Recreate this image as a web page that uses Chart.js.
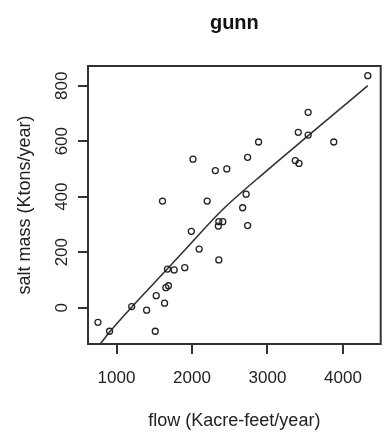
<!DOCTYPE html>
<html>
<head>
<meta charset="utf-8">
<script src="https://cdn.jsdelivr.net/npm/chart.js@4/dist/chart.umd.min.js"></script>
<style>
  body { margin: 0; background: #fff; }
  canvas { display: block; }
</style>
</head>
<body>
<canvas id="graph" width="386" height="440"></canvas>
<script>
// observed flow vs salt mass
const flow = [4329, 3539, 3408, 3539, 3878, 2882, 2737, 2013, 2461, 2309, 3368, 3417,
  2201, 1609, 2717, 2671, 2355, 2408, 2349, 2737, 2095, 2355, 1991, 1675, 1763, 1904,
  1654, 1688, 1526, 1636, 1201, 1399, 754, 908, 1513];
const saltMass = [836, 704, 632, 622, 597, 597, 542, 535, 500, 494, 530, 520,
  384, 384, 409, 360, 310, 310, 294, 296, 211, 172, 275, 139, 136, 144,
  72, 79, 43, 16, 4, -9, -53, -85, -85];

// smooth fit line
const fitFlow = [754, 908, 1201, 1675, 2000, 2400, 3000, 3539, 4329];
const fitMass = [-142, -88, 2, 140, 236, 352, 496, 620, 800];

const xTicks = [1000, 2000, 3000, 4000];
const yTicks = [0, 200, 400, 600, 800];

const fontFam = '"Liberation Sans", Arial, sans-serif';
const ink = '#222';

const boxPlugin = {
  id: 'box',
  afterDraw(c) {
    const { ctx, chartArea: a } = c;
    ctx.save();
    ctx.strokeStyle = '#333';
    ctx.lineWidth = 2;
    ctx.strokeRect(a.left, a.top, a.right - a.left, a.bottom - a.top);
    // y tick labels, rotated like R
    const y = c.scales.y;
    ctx.fillStyle = ink;
    ctx.font = '17px ' + fontFam;
    ctx.textAlign = 'center';
    ctx.textBaseline = 'middle';
    yTicks.forEach(v => {
      ctx.save();
      ctx.translate(62, y.getPixelForValue(v));
      ctx.rotate(-Math.PI / 2);
      ctx.fillText(String(v), 0, 0);
      ctx.restore();
    });
    ctx.restore();
  }
};

new Chart(document.getElementById('graph'), {
  type: 'scatter',
  data: {
    datasets: [{
      data: flow.map((f, i) => ({ x: f, y: saltMass[i] })),
      pointRadius: 3,
      pointBorderWidth: 1.3,
      pointBorderColor: '#222',
      pointBackgroundColor: 'rgba(0,0,0,0)'
    }, {
      type: 'line',
      data: fitFlow.map((f, i) => ({ x: f, y: fitMass[i] })),
      borderColor: '#333',
      borderWidth: 1.6,
      pointRadius: 0,
      cubicInterpolationMode: 'monotone',
      fill: false
    }]
  },
  options: {
    responsive: false,
    animation: false,
    devicePixelRatio: 1,
    layout: { padding: { right: 3 } },
    plugins: {
      legend: { display: false },
      tooltip: { enabled: false },
      title: {
        display: true,
        text: 'gunn',
        fullSize: false,
        color: '#111',
        font: { family: fontFam, size: 20, weight: 'bold' },
        padding: { top: 11, bottom: 31 }
      }
    },
    scales: {
      x: {
        type: 'linear',
        min: 622,
        max: 4500,
        afterBuildTicks: s => { s.ticks = xTicks.map(v => ({ value: v })); },
        afterFit: s => { s.height = 96; },
        ticks: {
          color: ink,
          font: { family: fontFam, size: 17 },
          padding: 14,
          callback: v => String(v)
        },
        grid: { drawOnChartArea: false, drawTicks: true, tickLength: 10, color: '#333', lineWidth: 2 },
        border: { display: false },
        title: {
          display: true,
          text: 'flow (Kacre-feet/year)',
          color: ink,
          font: { family: fontFam, size: 18 },
          padding: { top: 0, bottom: 8 }
        }
      },
      y: {
        type: 'linear',
        min: -131,
        max: 871,
        afterBuildTicks: s => { s.ticks = yTicks.map(v => ({ value: v })); },
        afterFit: s => { s.width = 88; },
        ticks: { display: false },
        grid: { drawOnChartArea: false, drawTicks: true, tickLength: 10, color: '#333', lineWidth: 2 },
        border: { display: false },
        title: {
          display: true,
          text: 'salt mass (Ktons/year)',
          color: ink,
          font: { family: fontFam, size: 18 },
          padding: { top: 14, bottom: 0 }
        }
      }
    }
  },
  plugins: [boxPlugin]
});
</script>
</body>
</html>
